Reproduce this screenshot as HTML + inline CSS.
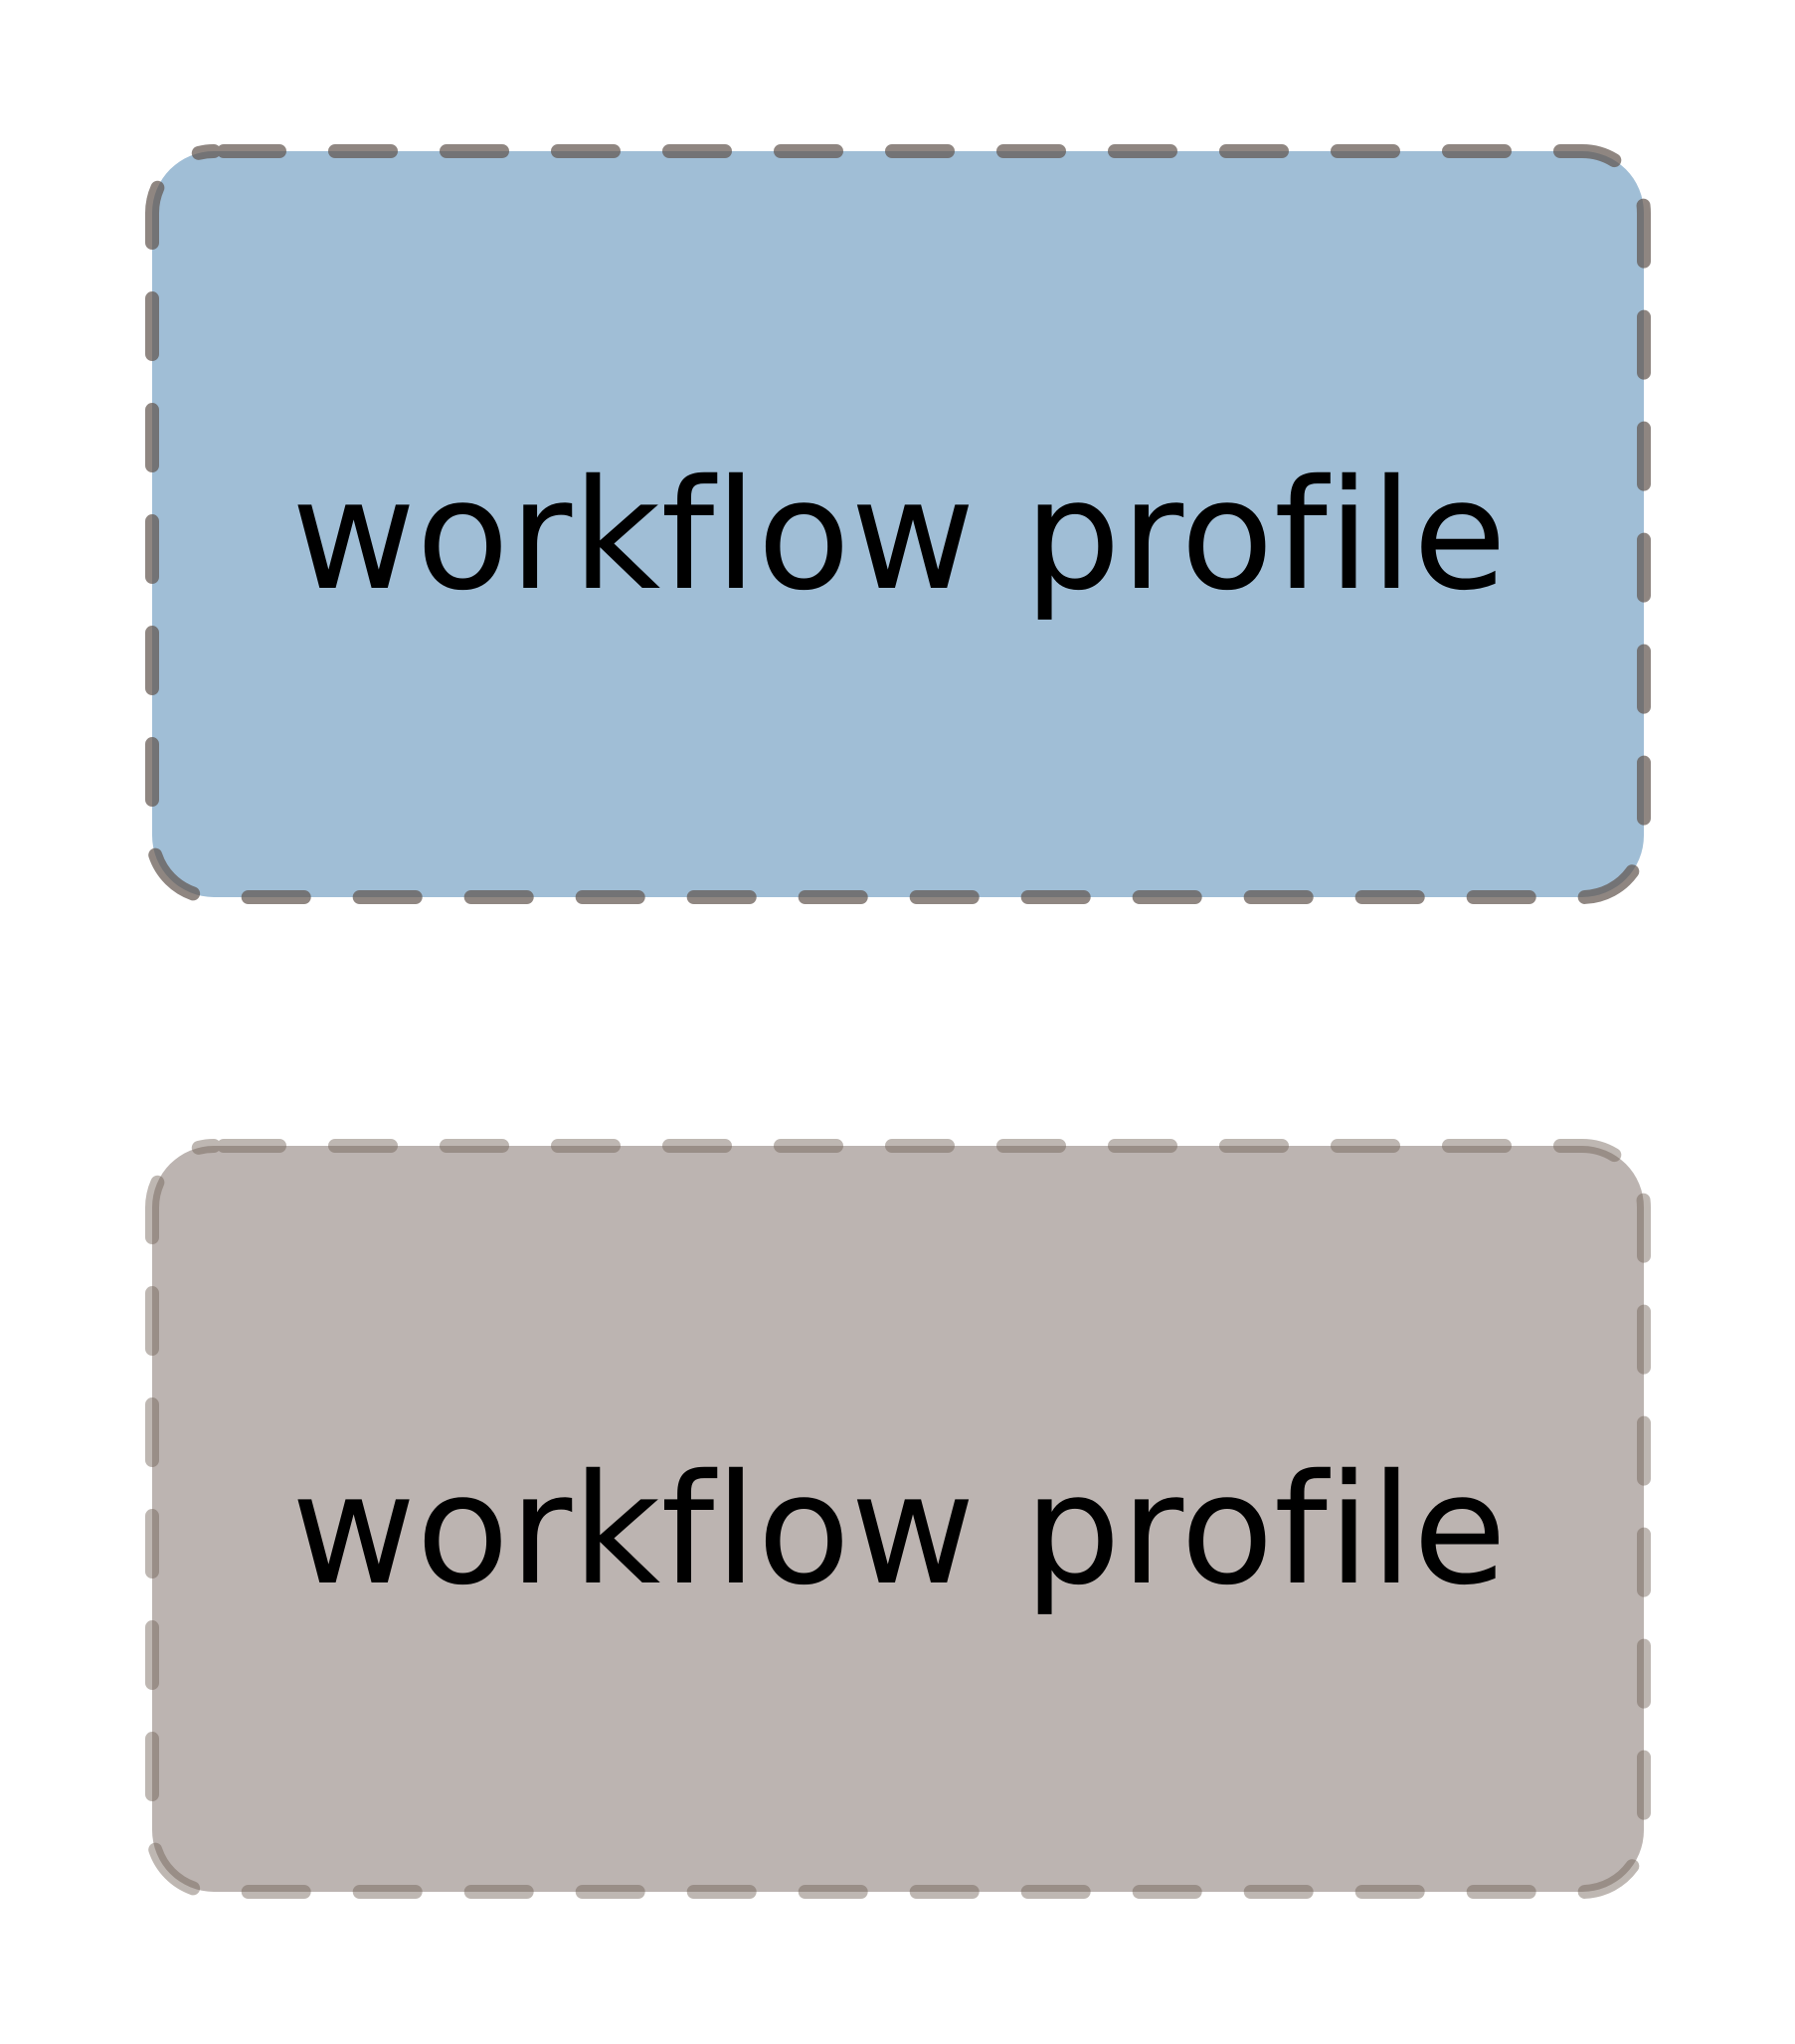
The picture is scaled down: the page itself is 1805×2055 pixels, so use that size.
<!DOCTYPE html>
<html>
<head>
<meta charset="utf-8">
<style>
  html,body{margin:0;padding:0;background:#fff;}
  svg{display:block;}
  text{font-variant-ligatures:none;font-feature-settings:"liga" 0,"clig" 0;}
</style>
</head>
<body>
<svg width="1805" height="2055" viewBox="0 0 1805 2055" xmlns="http://www.w3.org/2000/svg">
  <rect x="0" y="0" width="1805" height="2055" fill="#ffffff"/>
  <!-- top box -->
  <rect x="153" y="152" width="1500" height="750" rx="62" ry="62" fill="#a0bed6"/>
  <rect x="153" y="152" width="1500" height="750" rx="62" ry="62" fill="none"
        stroke="rgb(95,82,75)" stroke-opacity="0.7" stroke-width="14"
        stroke-linecap="round" stroke-dasharray="56 56" stroke-dashoffset="-10"/>
  <text x="293" y="591" textLength="1222" lengthAdjust="spacing" font-family="DejaVu Sans, Liberation Sans, sans-serif" font-size="153" fill="#000">workflow profile</text>

  <!-- bottom box -->
  <rect x="153" y="1152" width="1500" height="750" rx="62" ry="62" fill="#bcb4b1"/>
  <rect x="153" y="1152" width="1500" height="750" rx="62" ry="62" fill="none"
        stroke="rgb(110,95,85)" stroke-opacity="0.45" stroke-width="14"
        stroke-linecap="round" stroke-dasharray="56 56" stroke-dashoffset="-10"/>
  <text x="293" y="1591" textLength="1222" lengthAdjust="spacing" font-family="DejaVu Sans, Liberation Sans, sans-serif" font-size="153" fill="#000">workflow profile</text>
</svg>
</body>
</html>
